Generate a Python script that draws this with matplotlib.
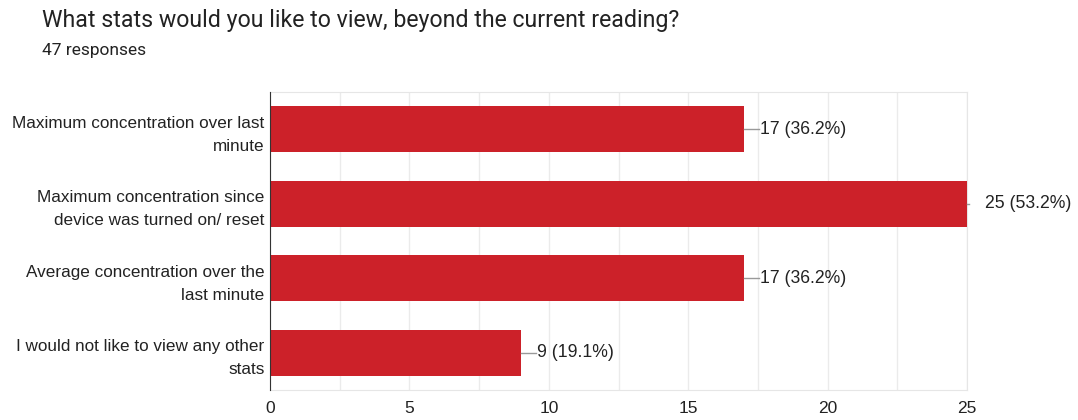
import matplotlib.pyplot as plt
from matplotlib.ticker import MultipleLocator

plt.rcParams['font.family'] = ['Roboto', 'DejaVu Sans']

title = "What stats would you like to view, beyond the current reading?"
n_responses = 47
options = [
    "Maximum concentration over last\nminute",
    "Maximum concentration since\ndevice was turned on/ reset",
    "Average concentration over the\nlast minute",
    "I would not like to view any other\nstats",
]
counts = [17, 25, 17, 9]
percents = [36.2, 53.2, 36.2, 19.1]

label_font = ['Liberation Sans', 'DejaVu Sans']

fig = plt.figure(figsize=(10.78, 4.2), dpi=100)
ax = fig.add_axes([0.2505, 0.0714, 0.6466, 0.7095])

ypos = list(range(len(options)))
ax.barh(ypos, counts, height=0.62, color="#cc2129", zorder=3)
ax.set_ylim(len(options) - 0.5, -0.5)
ax.set_xlim(0, 25)
ax.set_yticks(ypos)
ax.set_yticklabels(options, fontsize=12.3, color="#222222", linespacing=1.65,
                   family=label_font)

ax.xaxis.set_major_locator(MultipleLocator(5))
ax.xaxis.set_minor_locator(MultipleLocator(2.5))
ax.grid(axis="x", which="both", color="#ebebeb", linewidth=1, zorder=0)
ax.tick_params(axis="x", which="both", length=0, labelsize=12.5,
               labelcolor="#222222", pad=8)
ax.tick_params(axis="y", length=0, pad=4)
for t in ax.get_xticklabels():
    t.set_family(label_font)

for s in ["top", "right", "bottom"]:
    ax.spines[s].set_color("#e6e6e6")
ax.spines["left"].set_color("#333333")
ax.spines["left"].set_zorder(4)

# value labels with a short leader line
for y, c, p in zip(ypos, counts, percents):
    if c < max(counts):
        x0, x1, tx = c, c + 0.55, c + 0.58
    else:
        x0, x1, tx = c, c + 0.08, c + 0.65
    ax.plot([x0, x1], [y, y], color="#999999", lw=1, clip_on=False, zorder=4)
    ax.text(tx, y, f"{c} ({p}%)", va="center", ha="left", fontsize=12.7,
            color="#222222", clip_on=False, family=label_font)

fig.text(0.039, 0.952, title, fontsize=16.7, color="#222222", va="center")
fig.text(0.039, 0.88, f"{n_responses} responses", fontsize=12.5,
         color="#222222", va="center")

fig.savefig("out.png", dpi=100)
